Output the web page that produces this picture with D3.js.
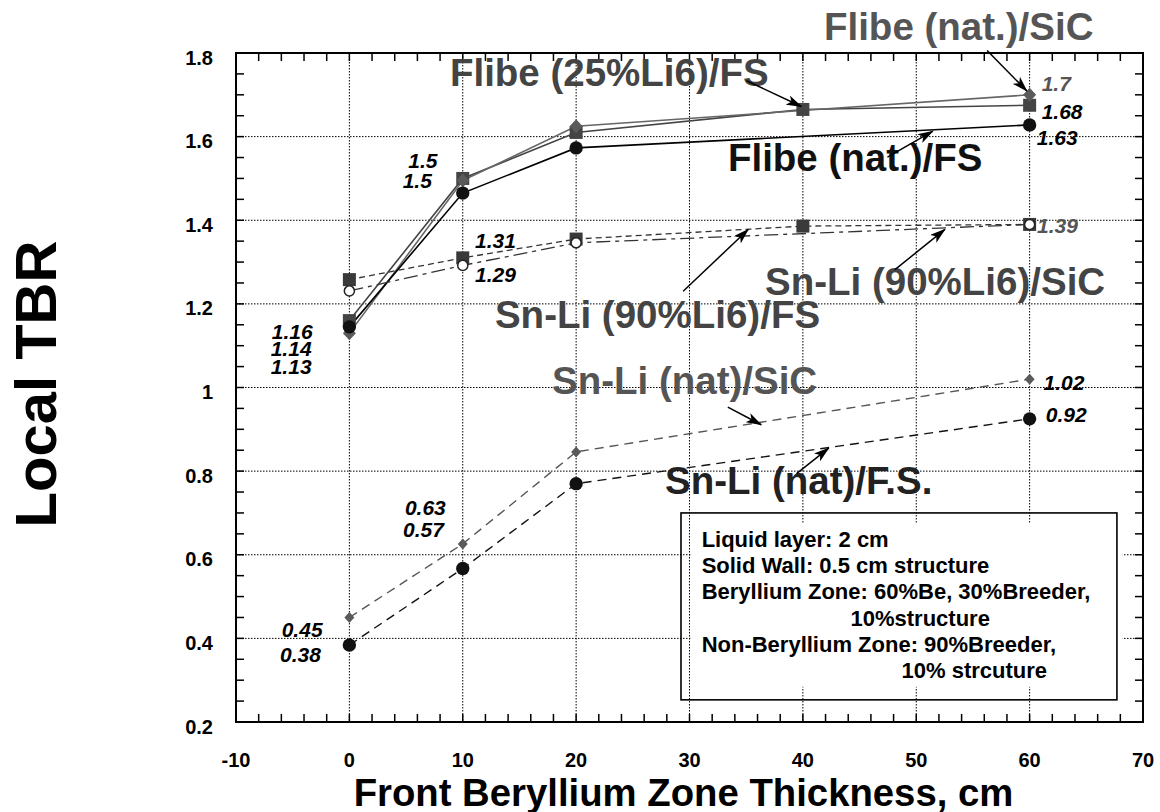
<!DOCTYPE html>
<html><head><meta charset="utf-8">
<script src="https://cdn.jsdelivr.net/npm/d3@7"></script>
<style>
body{margin:0;background:#fff}
svg{display:block}
text{font-family:"Liberation Sans",Arial,Helvetica,sans-serif;font-weight:bold}
</style>
</head><body>
<svg id="chart" width="1160" height="812"></svg>
<script>
// ---------- data ----------
const xTickValues = [-10, 0, 10, 20, 30, 40, 50, 60, 70];
const xTickLabels = ["-10", "0", "10", "20", "30", "40", "50", "60", "70"];
const yTickValues = [0.2, 0.4, 0.6, 0.8, 1.0, 1.2, 1.4, 1.6, 1.8];
const yTickLabels = ["0.2", "0.4", "0.6", "0.8", "1", "1.2", "1.4", "1.6", "1.8"];

const thickness4 = [0, 10, 20, 60];
const thickness5 = [0, 10, 20, 40, 60];

const flibe25FS   = [1.16, 1.50, 1.61, 1.665, 1.675];   // on thickness5
const flibeNatSiC = [1.13, 1.495, 1.625, 1.70];        // on thickness4
const flibeNatFS  = [1.145, 1.465, 1.573, 1.628];      // on thickness4
const snli90FS    = [1.258, 1.31, 1.355, 1.386, 1.39]; // on thickness5
const snli90SiC   = [1.231, 1.292, 1.346, 1.39];       // on thickness4
const snliNatSiC  = [0.45, 0.626, 0.846, 1.02];        // on thickness4
const snliNatFS   = [0.384, 0.567, 0.77, 0.925];       // on thickness4

const seriesNames = ["Flibe (25%Li6)/FS", "Flibe (nat.)/SiC", "Flibe (nat.)/FS",
  "Sn-Li (90%Li6)/FS", "Sn-Li (90%Li6)/SiC", "Sn-Li (nat)/SiC", "Sn-Li (nat)/F.S."];

const noteLines = ["Liquid layer: 2 cm", "Solid Wall: 0.5 cm structure",
  "Beryllium Zone: 60%Be, 30%Breeder,", "10%structure",
  "Non-Beryllium Zone: 90%Breeder,", "10% strcuture"];

const xTitle = "Front Beryllium Zone Thickness, cm";
const yTitle = "Local TBR";

// ---------- setup ----------
const svg = d3.select("#chart");
const L = 236, R = 1143, T = 53, B = 722;
const x = d3.scaleLinear().domain([-10, 70]).range([L, R]);
const y = d3.scaleLinear().domain([0.2, 1.8]).range([B, T]);

// grid
const g = svg.append("g");
g.selectAll(".gx").data(xTickValues.slice(1, -1)).enter().append("line")
  .attr("x1", d => x(d)).attr("x2", d => x(d)).attr("y1", T).attr("y2", B)
  .attr("stroke", "#000").attr("stroke-width", 1).attr("stroke-dasharray", "1.5,1.5");
g.selectAll(".gy").data(yTickValues.slice(1, -1)).enter().append("line")
  .attr("y1", d => y(d)).attr("y2", d => y(d)).attr("x1", L).attr("x2", R)
  .attr("stroke", "#000").attr("stroke-width", 1).attr("stroke-dasharray", "1.5,1.5");

// note box (behind series)
const boxX0 = x(29.25), boxX1 = x(67.7), boxY0 = y(0.70), boxY1 = y(0.253);
svg.append("rect").attr("x", x(30.1)).attr("y", boxY0 + 11).attr("width", x(68.2) - x(30.1))
  .attr("height", (boxY1 - 13) - (boxY0 + 11)).attr("fill", "#fff");

// series
const series = [
  {name: seriesNames[0], xs: thickness5, ys: flibe25FS, color: "#444", dash: null, w: 1.6, sym: "square", fill: "#444"},
  {name: seriesNames[1], xs: thickness4, ys: flibeNatSiC, color: "#666", dash: null, w: 1.6, sym: "diamond", fill: "#5a5a5a"},
  {name: seriesNames[2], xs: thickness4, ys: flibeNatFS, color: "#000", dash: null, w: 1.6, sym: "circle", fill: "#111"},
  {name: seriesNames[3], xs: thickness5, ys: snli90FS, color: "#333", dash: "6,4", w: 1.3, sym: "square", fill: "#3a3a3a"},
  {name: seriesNames[4], xs: thickness4, ys: snli90SiC, color: "#333", dash: "14,5,4,5", w: 1.3, sym: "open", fill: "#fff"},
  {name: seriesNames[5], xs: thickness4, ys: snliNatSiC, color: "#555", dash: "9,6", w: 1.4, sym: "smalldiamond", fill: "#5a5a5a"},
  {name: seriesNames[6], xs: thickness4, ys: snliNatFS, color: "#111", dash: "9,6", w: 1.4, sym: "circle", fill: "#111"}
];
const line = d3.line().x(d => x(d[0])).y(d => y(d[1]));
series.forEach(s => {
  const pts = s.xs.map((v, i) => [v, s.ys[i]]);
  svg.append("path").attr("d", line(pts)).attr("fill", "none")
    .attr("stroke", s.color).attr("stroke-width", s.w)
    .attr("stroke-dasharray", s.dash);
});
series.forEach(s => {
  const pts = s.xs.map((v, i) => [v, s.ys[i]]);
  const sel = svg.append("g").selectAll("path").data(pts).enter().append("path")
    .attr("transform", d => `translate(${x(d[0])},${y(d[1])})`);
  if (s.sym === "square") sel.attr("d", "M-6.5,-6.5H6.5V6.5H-6.5Z").attr("fill", s.fill);
  else if (s.sym === "diamond") sel.attr("d", "M0,-7L6.5,0L0,7L-6.5,0Z").attr("fill", s.fill);
  else if (s.sym === "smalldiamond") sel.attr("d", "M0,-5.5L5,0L0,5.5L-5,0Z").attr("fill", s.fill);
  else if (s.sym === "circle") sel.attr("d", d3.symbol(d3.symbolCircle, 140)()).attr("fill", s.fill);
  else sel.attr("d", d3.symbol(d3.symbolCircle, 80)()).attr("fill", "#fff").attr("stroke", "#222").attr("stroke-width", 1.5);
});

// note box frame + text
svg.append("rect").attr("x", boxX0).attr("y", boxY0).attr("width", boxX1 - boxX0).attr("height", boxY1 - boxY0)
  .attr("fill", "none").attr("stroke", "#000").attr("stroke-width", 1.6);
const noteX = [31.07, 31.07, 31.07, 44.2, 31.07, 48.7];
noteLines.forEach((t, i) => {
  svg.append("text").attr("x", x(noteX[i])).attr("y", boxY0 + 34 + i * 26.2)
    .attr("font-size", 22).attr("fill", "#000").text(t);
});

// frame
svg.append("rect").attr("x", L).attr("y", T).attr("width", R - L).attr("height", B - T)
  .attr("fill", "none").attr("stroke", "#000").attr("stroke-width", 2);

// ticks (inward, all four sides)
const tk = 8;
const xMinor = d3.range(-10, 70.01, 2);
const yMinor = d3.range(0.2, 1.801, 0.05);
const tg = svg.append("g").attr("stroke", "#000").attr("stroke-width", 1.5);
xMinor.forEach(v => {
  tg.append("line").attr("x1", x(v)).attr("x2", x(v)).attr("y1", B).attr("y2", B - tk);
  tg.append("line").attr("x1", x(v)).attr("x2", x(v)).attr("y1", T).attr("y2", T + tk);
});
yMinor.forEach(v => {
  tg.append("line").attr("y1", y(v)).attr("y2", y(v)).attr("x1", L).attr("x2", L + tk);
  tg.append("line").attr("y1", y(v)).attr("y2", y(v)).attr("x1", R).attr("x2", R - tk);
});

// tick labels
xTickValues.forEach((v, i) => {
  svg.append("text").attr("x", x(v)).attr("y", 767).attr("text-anchor", "middle")
    .attr("font-size", 20).text(xTickLabels[i]);
});
yTickValues.forEach((v, i) => {
  svg.append("text").attr("x", 213).attr("y", y(v) + 11.5).attr("text-anchor", "end")
    .attr("font-size", 20).text(yTickLabels[i]);
});

// axis titles
svg.append("text").attr("x", 683.5).attr("y", 805.5).attr("text-anchor", "middle")
  .attr("font-size", 38.3).text(xTitle);
svg.append("text").attr("transform", "translate(56,384) rotate(-90)").attr("text-anchor", "middle")
  .attr("font-size", 58).text(yTitle);

// series annotations (data coordinates)
const notes = [
  {t: seriesNames[1], dx: 41.86, dy: 1.830, c: "#555"},
  {t: seriesNames[0], dx: 8.87, dy: 1.721, c: "#444"},
  {t: seriesNames[2], dx: 33.39, dy: 1.518, c: "#111"},
  {t: seriesNames[4], dx: 36.66, dy: 1.222, c: "#444"},
  {t: seriesNames[3], dx: 12.84, dy: 1.142, c: "#444"},
  {t: seriesNames[5], dx: 17.87, dy: 0.984, c: "#555"},
  {t: seriesNames[6], dx: 27.84, dy: 0.745, c: "#222"}
];
notes.forEach(n => {
  svg.append("text").attr("x", x(n.dx)).attr("y", y(n.dy)).attr("font-size", 38.5)
    .attr("fill", n.c).text(n.t);
});

// value labels (stacked groups share one text element)
const valGroups = [
  [{t: "1.5", dx: 5.2, dy: 1.524}, {t: "1.5", dx: 4.7, dy: 1.476}],
  [{t: "1.31", dx: 11.08, dy: 1.333}], [{t: "1.29", dx: 11.08, dy: 1.253}],
  [{t: "1.16", dx: -6.85, dy: 1.116}, {t: "1.14", dx: -6.94, dy: 1.076}, {t: "1.13", dx: -6.94, dy: 1.032}],
  [{t: "0.63", dx: 4.9, dy: 0.695}, {t: "0.57", dx: 4.73, dy: 0.642}],
  [{t: "0.45", dx: -5.97, dy: 0.404}, {t: "0.38", dx: -6.12, dy: 0.343}],
  [{t: "1.7", dx: 61.06, dy: 1.710, c: "#555"}], [{t: "1.68", dx: 61.06, dy: 1.642}],
  [{t: "1.63", dx: 60.63, dy: 1.581}], [{t: "1.39", dx: 60.65, dy: 1.370, c: "#555"}],
  [{t: "1.02", dx: 61.23, dy: 0.993}], [{t: "0.92", dx: 61.43, dy: 0.917}]
];
valGroups.forEach(grp => {
  const te = svg.append("text").attr("font-size", 21).attr("font-style", "italic");
  grp.forEach(v => {
    te.append("tspan").attr("x", x(v.dx)).attr("y", y(v.dy)).attr("fill", v.c || "#000").text(v.t);
  });
});

// arrows
svg.append("defs").append("marker").attr("id", "ah").attr("markerUnits", "userSpaceOnUse")
  .attr("markerWidth", 16).attr("markerHeight", 10).attr("refX", 15).attr("refY", 5)
  .attr("orient", "auto").append("path").attr("d", "M0,0L16,5L0,10L4,5Z").attr("fill", "#000");
const arrows = [
  [35.01, 1.734, 39.87, 1.672],
  [56.25, 1.806, 59.76, 1.709],
  [47.46, 1.551, 51.46, 1.613],
  [29.44, 1.230, 35.18, 1.378],
  [48.12, 1.282, 52.53, 1.378],
  [33.38, 0.953, 36.33, 0.911],
  [39.44, 0.794, 42.28, 0.855]
];
arrows.forEach(a => {
  svg.append("line").attr("x1", x(a[0])).attr("y1", y(a[1])).attr("x2", x(a[2])).attr("y2", y(a[3]))
    .attr("stroke", "#000").attr("stroke-width", 1.5).attr("marker-end", "url(#ah)");
});
</script>
</body></html>
